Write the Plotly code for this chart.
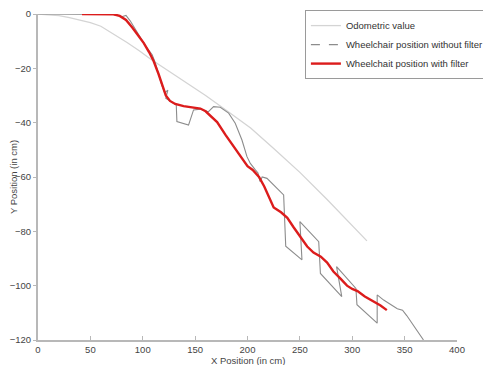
import plotly.graph_objects as go

# Odometric value (light gray)
odo_x = [0, 10, 20, 30, 40, 50, 60, 72, 85, 97, 107, 120, 139, 160, 180, 203, 225, 250, 276, 295, 314]
odo_y = [0, -0.2, -0.6, -1.3, -2.2, -3.2, -4.5, -7.3, -10.5, -13.6, -16.5, -19.8, -24.5, -30, -35.5, -42,
         -49.5, -58.3, -68.3, -75.8, -83.5]

# Wheelchair position without filter (dark gray)
raw_x = [0, 20, 42, 60, 72, 80, 84, 88, 91, 95, 100, 104, 109, 112, 115, 118, 121, 124, 122, 126, 132,
         132.6, 139, 143.7, 148.5, 155, 162.5, 167.6, 174, 182, 188.3, 194.7, 199.5, 202.7, 207.5, 210,
         212, 214, 218.6, 234.5, 236.5, 252, 250, 268, 269.6, 290, 285, 303.5, 304.5, 323.8, 323.8, 330,
         343, 348, 352, 368]
raw_y = [0, 0, 0, 0, -0.2, -1, -0.5, -2.5, -4.5, -7, -10, -12.5, -15, -18, -22, -26, -29, -28, -31, -32,
         -33.5, -39.6, -40.2, -40.9, -35.3, -35, -36, -34.1, -34.3, -36.5, -40.2, -46.4, -52.5, -55,
         -57.4, -58.5, -61.7, -60, -60.5, -66.6, -85.5, -90.5, -76.4, -83.8, -95.5, -104, -93, -101,
         -107, -113.8, -103.4, -105.3, -108.5, -109, -111, -120]

# Wheelchair position with filter (red)
filt_x = [42, 55, 65, 72, 78, 84, 90, 96, 101, 106, 110, 115, 119, 122, 126, 131, 139, 148, 155, 160,
          165, 171, 179, 187, 195, 200, 205, 211, 216, 220, 225, 232, 238, 244, 250, 257, 263, 270, 276,
          282, 289, 295, 300, 305, 312, 320, 327, 333]
filt_y = [0, 0, 0, -0.1, -0.7, -2.2, -5, -8, -10.7, -14, -17, -22, -26.5, -30, -32, -33.1, -33.9, -34.4,
          -34.8, -35.8, -37.5, -39.8, -44.5, -49, -53.3, -56, -57.4, -60, -63.5, -67, -71.2, -73, -75,
          -78.5, -82, -85.6, -87.8, -89.3, -91.5, -94.8, -97.5, -100, -101.2, -102, -104, -105.8,
          -107.3, -109]

x_ticks = [0, 50, 100, 150, 200, 250, 300, 350, 400]
y_ticks = [-120, -100, -80, -60, -40, -20, 0]

fig = go.Figure()
fig.add_trace(go.Scatter(x=odo_x, y=odo_y, mode="lines", name="Odometric value",
                         line=dict(color="#d4d4d4", width=1.3)))
fig.add_trace(go.Scatter(x=raw_x, y=raw_y, mode="lines", name="Wheelchair position without filter",
                         line=dict(color="#8c8c8c", width=1.1), showlegend=False))
fig.add_trace(go.Scatter(x=[None], y=[None], mode="lines", name="Wheelchair position without filter",
                         line=dict(color="#8c8c8c", width=1.1, dash="dash")))
fig.add_trace(go.Scatter(x=filt_x, y=filt_y, mode="lines", name="Wheelchait position with filter",
                         line=dict(color="#dc1c1c", width=2.4)))

axis_font = dict(family="Liberation Sans, Arial, sans-serif", size=9.5, color="#444444")
fig.update_layout(
    width=483, height=357,
    margin=dict(l=30, r=34, t=6, b=25, autoexpand=False),
    paper_bgcolor="white", plot_bgcolor="white",
    font=axis_font,
    showlegend=True,
    legend=dict(x=0.637, y=1.012, xanchor="left", yanchor="top",
                bordercolor="#9a9a9a", borderwidth=1, bgcolor="white",
                font=dict(family="Liberation Sans, Arial, sans-serif", size=9.5, color="#333333"),
                itemwidth=30),
    xaxis=dict(range=[0, 400], tickvals=x_ticks, showgrid=False, zeroline=False,
               showline=True, linecolor="#b8b8b8", linewidth=2, ticks="inside", ticklen=4,
               tickcolor="#b8b8b8", tickfont=axis_font, automargin=False),
    yaxis=dict(range=[-120, 0], tickvals=y_ticks, showgrid=False, zeroline=False,
               showline=True, linecolor="#b8b8b8", linewidth=2, ticks="outside", ticklen=3,
               tickcolor="#b8b8b8", tickfont=axis_font, automargin=False,
               title=dict(text="Y Position (in cm)", standoff=2, font=axis_font)),
    annotations=[dict(text="X Position (in cm)", xref="paper", yref="paper", x=0.5, y=0,
                      xanchor="center", yanchor="top", yshift=-13, showarrow=False,
                      font=dict(family="Liberation Sans, Arial, sans-serif", size=9.5, color="#444444"))],
)

fig.write_html("out.html")
